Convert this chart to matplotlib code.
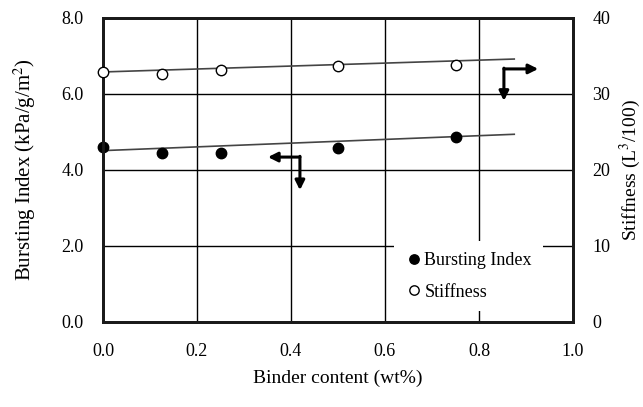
import numpy as np
import matplotlib
matplotlib.use('Agg')
import matplotlib.pyplot as plt

plt.rcParams['font.family'] = ['Liberation Serif', 'DejaVu Serif']
plt.rcParams['mathtext.fontset'] = 'stix'

# data
binder = [0.0, 0.125, 0.25, 0.5, 0.75]
bursting = [4.61, 4.44, 4.44, 4.59, 4.87]
stiffness = [32.9, 32.6, 33.1, 33.7, 33.8]

# trend lines (end points)
trend_x = [0.0, 0.875]
burst_trend = [4.51, 4.94]
stiff_trend = [32.9, 34.6]

x_ticks = [0.0, 0.2, 0.4, 0.6, 0.8, 1.0]
left_ticks = [0.0, 2.0, 4.0, 6.0, 8.0]
right_ticks = [0, 10, 20, 30, 40]

fig = plt.figure(figsize=(6.43, 4.07), dpi=100)
ax = fig.add_axes([103 / 643, 1 - 322 / 407, 470 / 643, 304 / 407])
ax2 = ax.twinx()

ax.set_xlim(0, 1.0)
ax.set_ylim(0, 8.0)
ax2.set_ylim(0, 40)

ax.set_xticks(x_ticks)
ax.set_xticklabels([f'{v:.1f}' for v in x_ticks])
ax.set_yticks(left_ticks)
ax.set_yticklabels([f'{v:.1f}' for v in left_ticks])
ax2.set_yticks(right_ticks)
ax2.set_yticklabels([str(v) for v in right_ticks])

ax.grid(True, color='black', linewidth=1.0)
ax.set_axisbelow(True)
ax.tick_params(length=0, labelsize=13, pad=15)
ax.tick_params(axis='y', pad=14)
ax2.tick_params(length=0, labelsize=13, pad=14)

for a in (ax, ax2):
    for s in a.spines.values():
        s.set_linewidth(2.0)
        s.set_color('#1a1a1a')

# trend lines
ax.plot(trend_x, burst_trend, color='#444444', linewidth=1.2, zorder=3)
ax2.plot(trend_x, stiff_trend, color='#444444', linewidth=1.2, zorder=3)

# points
h1, = ax.plot(binder, bursting, 'o', color='black', markersize=7.5,
              linestyle='none', clip_on=False, zorder=5, label='Bursting Index')
h2, = ax2.plot(binder, stiffness, 'o', markerfacecolor='white',
               markeredgecolor='black', markeredgewidth=1.0, markersize=7.5,
               linestyle='none', clip_on=False, zorder=5, label='Stiffness')

# axis indicator arrows
arr = dict(arrowstyle='-|>', color='black', lw=2.2, mutation_scale=14,
           shrinkA=0, shrinkB=0)
ax.annotate('', xy=(0.351, 4.34), xytext=(0.419, 4.34), arrowprops=arr)
ax.annotate('', xy=(0.419, 3.47), xytext=(0.419, 4.36), arrowprops=arr)
ax.annotate('', xy=(0.926, 6.66), xytext=(0.853, 6.66), arrowprops=arr)
ax.annotate('', xy=(0.853, 5.82), xytext=(0.853, 6.68), arrowprops=arr)

leg = ax2.legend([h1, h2], ['Bursting Index', 'Stiffness'],
                 loc='lower right', bbox_to_anchor=(0.955, 0.005),
                 frameon=True, fancybox=False, edgecolor='none',
                 facecolor='white', framealpha=1.0, fontsize=13,
                 handletextpad=0.1, handlelength=1.0, labelspacing=0.8,
                 borderpad=0.6, markerscale=0.9)

ax.set_xlabel('Binder content (wt%)', fontsize=14, labelpad=7)
ax.set_ylabel('Bursting Index (kPa/g/m$^2$)', fontsize=15, labelpad=17)
ax2.set_ylabel('Stiffness (L$^3$/100)', fontsize=14, labelpad=5)

fig.savefig('out.png', dpi=100)
